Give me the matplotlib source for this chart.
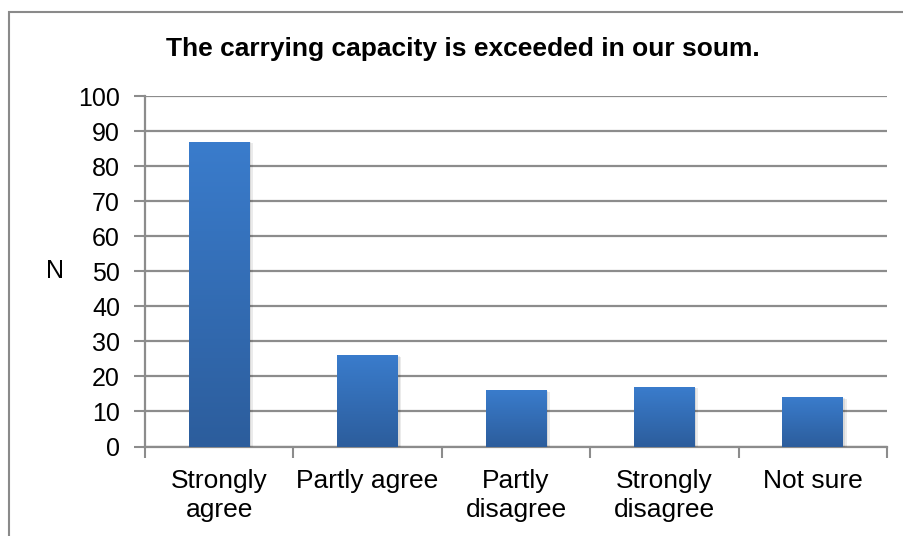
import numpy as np
import matplotlib
matplotlib.use("Agg")
import matplotlib.pyplot as plt
from matplotlib.colors import LinearSegmentedColormap
from matplotlib.patches import Rectangle
import matplotlib.patheffects as pe

categories = ["Strongly\nagree", "Partly agree", "Partly\ndisagree", "Strongly\ndisagree", "Not sure"]
counts = [87, 26, 16, 17, 14]
y_ticks = list(range(0, 101, 10))

title = "The carrying capacity is exceeded in our soum."

plt.rcParams['font.family'] = ['Liberation Sans', 'DejaVu Sans']

grid_gray = "#8c8c8c"
bar_grad = LinearSegmentedColormap.from_list("bar_grad", ["#2c5d9c", "#3a7ccc"])

fig = plt.figure(figsize=(9.04, 5.36), dpi=100)
ax = fig.add_axes([145 / 904, 1 - 446.5 / 536, 742 / 904, 350.5 / 536])

# outer chart frame (runs off the right and bottom edges)
fig.patches.append(Rectangle((9 / 904, -0.2), 1.2, 0.2 + 1 - 12 / 536,
                             transform=fig.transFigure, fill=False,
                             edgecolor="#8a8a8a", linewidth=1.5))

x = np.arange(len(categories))
bars = ax.bar(x, counts, width=0.41, color="none", zorder=3,
              path_effects=[pe.SimplePatchShadow(offset=(2.5, -1), shadow_rgbFace="#000000", alpha=0.08),
                            pe.SimplePatchShadow(offset=(1.2, -0.5), shadow_rgbFace="#000000", alpha=0.08),
                            pe.Normal()])

# vertical gradient fill for each bar
grad = np.linspace(0, 1, 256).reshape(-1, 1)
for b in bars:
    x0, w, h = b.get_x(), b.get_width(), b.get_height()
    im = ax.imshow(grad, extent=[x0, x0 + w, 0, h], origin="lower",
                   aspect="auto", cmap=bar_grad, zorder=3.5)
    im.set_clip_path(b)

ax.set_xlim(-0.5, len(categories) - 0.5)
ax.set_ylim(0, 100)

ax.set_yticks(y_ticks)
ax.yaxis.grid(True, color=grid_gray, linewidth=1.6)
ax.set_axisbelow(True)

ax.set_xticks(x)
ax.set_xticklabels(categories, fontsize=19, linespacing=1.3)
ax.set_xticks(np.arange(-0.5, len(categories)), minor=True)
ax.tick_params(axis="x", which="major", length=0, pad=16)
ax.tick_params(axis="x", which="minor", length=8, width=1.5, color=grid_gray)
ax.tick_params(axis="y", length=8, width=1.5, color=grid_gray, labelsize=18, pad=10)

for side in ["top", "right"]:
    ax.spines[side].set_visible(False)
for side in ["left", "bottom"]:
    ax.spines[side].set_color(grid_gray)
    ax.spines[side].set_linewidth(1.6)

ax.set_ylabel("N", rotation=0, fontsize=18, va="center", ha="center")
ax.yaxis.set_label_coords(-0.121, 0.5)

fig.text(463 / 904, 1 - 56 / 536, title, ha="center", va="baseline",
         fontsize=19, fontweight="bold")

fig.savefig("out.png", dpi=100)
